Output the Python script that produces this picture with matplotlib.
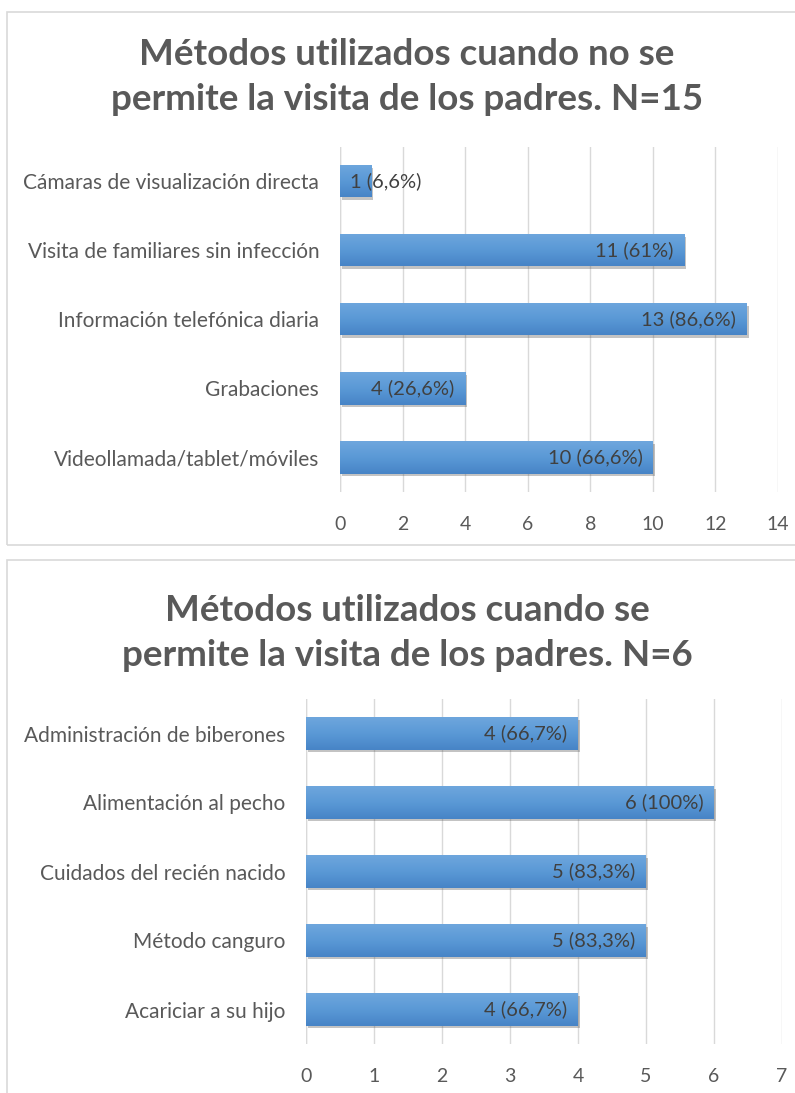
import matplotlib
matplotlib.use("Agg")
import matplotlib.pyplot as plt
import numpy as np
from matplotlib.patches import Rectangle
import matplotlib.patheffects as pe
from matplotlib.colors import LinearSegmentedColormap

plt.rcParams['font.family'] = ['Lato', 'DejaVu Sans']

# ---- data ----
title1 = "Métodos utilizados cuando no se\npermite la visita de los padres. N=15"
cats1 = ["Videollamada/tablet/móviles", "Grabaciones", "Información telefónica diaria",
         "Visita de familiares sin infección", "Cámaras de visualización directa"]
vals1 = [10, 4, 13, 11, 1]
labels1 = ["10 (66,6%)", "4 (26,6%)", "13 (86,6%)", "11 (61%)", "1 (6,6%)"]
xticks1 = [0, 2, 4, 6, 8, 10, 12, 14]

title2 = "Métodos utilizados cuando se\npermite la visita de los padres. N=6"
cats2 = ["Acariciar a su hijo", "Método canguro", "Cuidados del recién nacido",
         "Alimentación al pecho", "Administración de biberones"]
vals2 = [4, 5, 5, 6, 4]
labels2 = ["4 (66,7%)", "5 (83,3%)", "5 (83,3%)", "6 (100%)", "4 (66,7%)"]
xticks2 = [0, 1, 2, 3, 4, 5, 6, 7]

W, H = 795, 1093
fig = plt.figure(figsize=(W / 100, H / 100), dpi=100)
fig.patch.set_facecolor("white")

TXT = "#595959"
grad = LinearSegmentedColormap.from_list("g", ["#6ea6dd", "#5a99d6", "#4784c6"])


def px_axes(l, t, r, b):
    return fig.add_axes([l / W, 1 - b / H, (r - l) / W, (b - t) / H])


def frame(l, t, r, b):
    fig.add_artist(Rectangle((l / W, 1 - b / H), (r - l) / W, (b - t) / H,
                             transform=fig.transFigure, fill=False,
                             edgecolor="#d9d9d9", linewidth=1.2))


def draw(ax, cats, vals, labels, xticks, title_y, title, small_left):
    y = np.arange(len(cats))
    bars = ax.barh(y, vals, height=0.47, color="#5b9bd5", zorder=1.5,
                   path_effects=[pe.SimplePatchShadow(offset=(1.5, -2), shadow_rgbFace="#555555", alpha=0.35),
                                 pe.Normal()])
    g = np.linspace(0, 1, 64).reshape(-1, 1)
    for b in bars:
        x0, y0 = b.get_x(), b.get_y()
        im = ax.imshow(g, cmap=grad, aspect="auto", origin="upper",
                       extent=[x0, x0 + b.get_width(), y0, y0 + b.get_height()],
                       zorder=2, interpolation="bilinear")
        im.set_clip_path(b)
    for v, lab, yy in zip(vals, labels, y):
        if v <= small_left:
            ax.annotate(lab, (0, yy), xytext=(7, 0), textcoords="offset points",
                        ha="left", va="center", fontsize=14.5, color="#404040", zorder=3)
        else:
            ax.annotate(lab, (v, yy), xytext=(-7.5, 0), textcoords="offset points",
                        ha="right", va="center", fontsize=14.5, color="#404040", zorder=3)
    ax.set_xlim(xticks[0], xticks[-1])
    ax.set_ylim(-0.5, len(cats) - 0.5)
    ax.set_xticks(xticks)
    ax.set_yticks(y)
    ax.set_yticklabels(cats)
    ax.grid(axis="x", color="#d9d9d9", linewidth=1, zorder=0.5)
    ax.set_axisbelow(True)
    for s in ax.spines.values():
        s.set_visible(False)
    ax.tick_params(axis="both", length=0, colors=TXT, labelsize=14)
    ax.tick_params(axis="y", pad=15, labelsize=15)
    ax.tick_params(axis="x", pad=17)
    ax.axvline(0, color="#d9d9d9", linewidth=1, zorder=0.6)
    fig.text(0.512, 1 - title_y / H, title, ha="center", va="center", fontsize=26.5,
             fontweight="bold", color=TXT, linespacing=1.42)


frame(7, 12, 800, 545)
frame(7, 560, 800, 1100)

ax1 = px_axes(340, 146.5, 778, 492)
draw(ax1, cats1, vals1, labels1, xticks1, 77, title1, 1)

ax2 = px_axes(306, 699, 782, 1044)
draw(ax2, cats2, vals2, labels2, xticks2, 633, title2, 0)

fig.savefig("out.png", dpi=100, facecolor="white")
